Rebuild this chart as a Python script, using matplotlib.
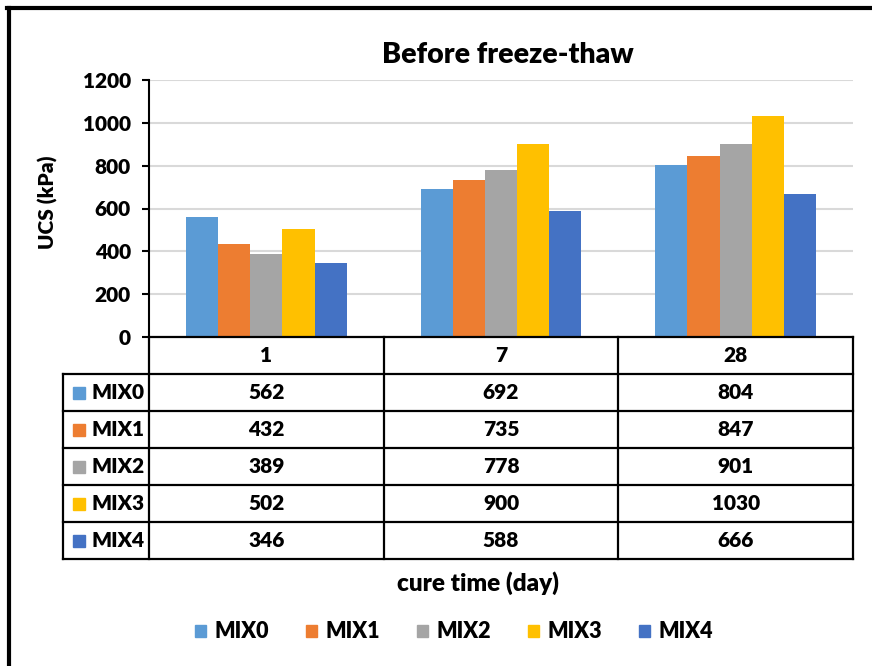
import matplotlib.pyplot as plt
import numpy as np
from matplotlib.lines import Line2D
from matplotlib.patches import Patch

# UCS before freeze-thaw, per mix and cure time
days = ["1", "7", "28"]
mixes = ["MIX0", "MIX1", "MIX2", "MIX3", "MIX4"]
mix0 = [562, 692, 804]
mix1 = [432, 735, 847]
mix2 = [389, 778, 901]
mix3 = [502, 900, 1030]
mix4 = [346, 588, 666]
colors = ["#5B9BD5", "#ED7D31", "#A5A5A5", "#FFC000", "#4472C4"]

plt.rcParams['font.family'] = ['Lato', 'DejaVu Sans']
plt.rcParams['font.weight'] = 'heavy'

W, H = 872, 666
fig = plt.figure(figsize=(W / 100, H / 100), dpi=100)


def fx(px):
    return px / W


def fy(py):
    return 1 - py / H


# bar area
ax = fig.add_axes([fx(149), fy(337), fx(853) - fx(149), fy(80) - fy(337)])
series = [mix0, mix1, mix2, mix3, mix4]
x = np.arange(len(days))
bw = 0.137
for i, (vals, c) in enumerate(zip(series, colors)):
    ax.bar(x + (i - 2) * bw, vals, bw, color=c, zorder=2)
ax.set_xlim(-0.5, 2.5)
ax.set_ylim(0, 1200)
ax.set_yticks(range(0, 1201, 200))
ax.grid(axis='y', color='#D9D9D9', lw=1.5, zorder=0)
ax.set_xticks([])
for s in ['top', 'right', 'bottom']:
    ax.spines[s].set_visible(False)
ax.spines['left'].set_linewidth(1.5)
ax.tick_params(axis='y', length=5, width=1.5, pad=8, labelsize=15)

fig.text(fx(508), fy(55), "Before freeze-thaw", ha='center', va='center',
         fontsize=20.5)
fig.text(fx(48), fy(202), "UCS (kPa)", rotation=90, ha='center', va='center',
         fontsize=15)

# data table under the bars
px_per_unit = (853 - 149) / 3
xl = -0.5 - (149 - 63) / px_per_unit
axt = fig.add_axes([fx(63), fy(559), fx(853) - fx(63), fy(337) - fy(559)])
axt.set_xlim(xl, 2.5)
axt.set_ylim(6, 0)
axt.axis('off')

lk = dict(color='black', lw=1.6, clip_on=False, solid_capstyle='projecting')
axt.plot([-0.5, 2.5], [0, 0], **lk)
for r in range(1, 7):
    axt.plot([xl, 2.5], [r, r], **lk)
axt.plot([xl, xl], [1, 6], **lk)
for cx in [-0.5, 0.5, 1.5, 2.5]:
    axt.plot([cx, cx], [0, 6], **lk)

for j, d in enumerate(days):
    axt.text(j, 0.5, d, ha='center', va='center', fontsize=15)
for i, (name, vals, c) in enumerate(zip(mixes, series, colors)):
    axt.plot(-0.5 + (79 - 149) / px_per_unit, i + 1.5, marker='s',
             markersize=8, color=c, clip_on=False)
    axt.text(-0.5 + (92 - 149) / px_per_unit, i + 1.5, name, ha='left',
             va='center', fontsize=15)
    for j, v in enumerate(vals):
        axt.text(j, i + 1.5, str(v), ha='center', va='center', fontsize=15)

fig.text(fx(478), fy(583), "cure time (day)", ha='center', va='center',
         fontsize=17.5)

handles = [Patch(color=c) for c in colors]
fig.legend(handles, mixes, loc='center', bbox_to_anchor=(fx(454), fy(632)),
           ncol=5, frameon=False, fontsize=15.5, handlelength=0.52,
           handleheight=0.52, handletextpad=0.4, columnspacing=1.7)

# page frame edges
fig.add_artist(Line2D([fx(7), 1], [fy(8), fy(8)], color='black', lw=3,
                      transform=fig.transFigure))
fig.add_artist(Line2D([fx(9), fx(9)], [fy(8), 0], color='black', lw=3,
                      transform=fig.transFigure))

fig.savefig('out.png', dpi=100)
